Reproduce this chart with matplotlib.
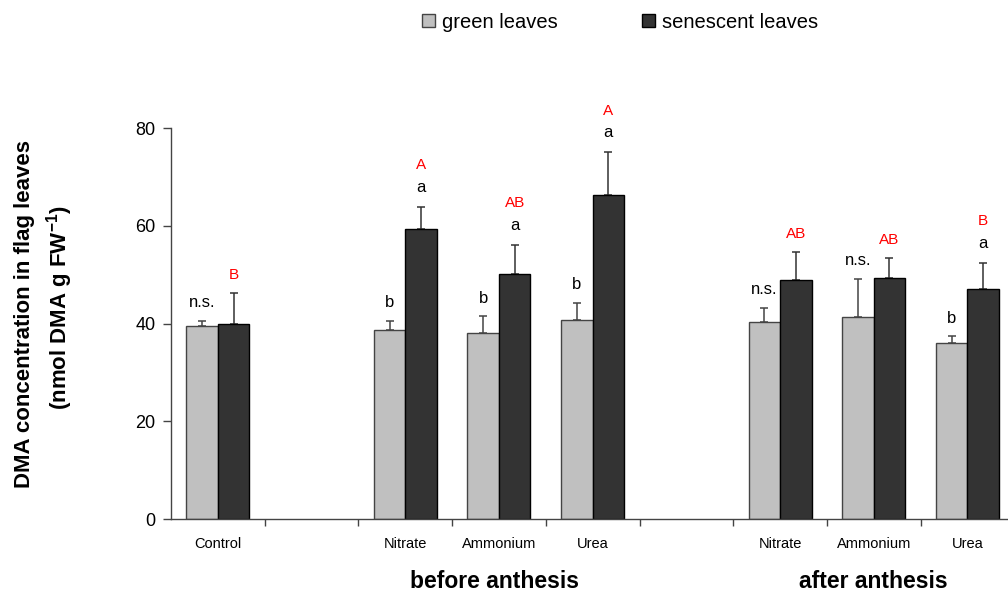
import numpy as np
import matplotlib
matplotlib.use("Agg")
from matplotlib import pyplot as plt

plt.rcParams['font.family'] = ['Liberation Sans', 'DejaVu Sans']
plt.rcParams['mathtext.fontset'] = 'custom'
plt.rcParams['mathtext.rm'] = 'Liberation Sans'
plt.rcParams['mathtext.bf'] = 'Liberation Sans:bold'

# data
categories = ['Control', 'Nitrate', 'Ammonium', 'Urea', 'Nitrate', 'Ammonium', 'Urea']
slots = [0, 2, 3, 4, 6, 7, 8]          # slot index of each category on the axis
green = [39.5, 38.8, 38.1, 40.8, 40.3, 41.3, 36.0]
green_err = [1.1, 1.8, 3.4, 3.5, 3.0, 7.9, 1.4]
senescent = [39.9, 59.3, 50.2, 66.3, 48.9, 49.3, 47.0]
senescent_err = [6.4, 4.6, 5.9, 8.8, 5.7, 4.1, 5.5]
green_labels = ['n.s.', 'b', 'b', 'b', 'n.s.', 'n.s.', 'b']
sen_labels = ['', 'a', 'a', 'a', '', '', 'a']
sen_red_labels = ['B', 'A', 'AB', 'A', 'AB', 'AB', 'B']
group_names = ['before anthesis', 'after anthesis']
group_slots = [3.45, 7.5]

fig = plt.figure(figsize=(10.08, 5.92), dpi=100)
ax = fig.add_axes([171 / 1008, 1 - 519 / 592, 9 * 93.7 / 1008, 390.7 / 592])

x = np.array(slots) + 0.5
w = 0.336
zeros = np.zeros(len(x))

# error bars (only upward)
ax.errorbar(x - w / 2, green, yerr=[zeros, green_err], fmt='none', ecolor='#444444',
            elinewidth=1.1, capsize=2.6, capthick=1.1, zorder=1)
ax.errorbar(x + w / 2, senescent, yerr=[zeros, senescent_err], fmt='none', ecolor='#333333',
            elinewidth=1.1, capsize=2.6, capthick=1.1, zorder=1)

ax.bar(x - w / 2, green, w, color='#c0c0c0', edgecolor='#444444', linewidth=1.0,
       label='green leaves', zorder=2)
ax.bar(x + w / 2, senescent, w, color='#333333', edgecolor='black', linewidth=1.0,
       label='senescent leaves', zorder=2)

# significance letters
for i in range(len(x)):
    top_g = green[i] + green_err[i]
    top_s = senescent[i] + senescent_err[i]
    ax.annotate(green_labels[i], (x[i] - w / 2, top_g), xytext=(0, 13), textcoords='offset points',
                ha='center', va='center', fontsize=12)
    if sen_labels[i]:
        ax.annotate(sen_labels[i], (x[i] + w / 2, top_s), xytext=(0, 14), textcoords='offset points',
                    ha='center', va='center', fontsize=12)
        ax.annotate(sen_red_labels[i], (x[i] + w / 2, top_s), xytext=(0, 30), textcoords='offset points',
                    ha='center', va='center', fontsize=11, color='red')
    else:
        ax.annotate(sen_red_labels[i], (x[i] + w / 2, top_s), xytext=(0, 13), textcoords='offset points',
                    ha='center', va='center', fontsize=11, color='red')

ax.set_xlim(0, 9)
ax.set_ylim(0, 80)
ax.set_yticks([0, 20, 40, 60, 80])
ax.set_xticks(np.arange(1, 10))
ax.set_xticklabels([])
ax.set_xticks(x, minor=True)
ax.set_xticklabels(categories, minor=True, fontsize=10.5)
ax.tick_params(axis='x', which='minor', length=0, pad=13)
ax.tick_params(axis='x', which='major', length=5, width=1, color='#444444', direction='out')
ax.tick_params(axis='y', length=6, width=1, color='#444444', labelsize=13, pad=5)

for s in ['top', 'right']:
    ax.spines[s].set_visible(False)
for s in ['left', 'bottom']:
    ax.spines[s].set_color('#444444')
    ax.spines[s].set_linewidth(1.0)

# group titles
for name, gx in zip(group_names, group_slots):
    ax.text(gx, -0.159, name, transform=ax.get_xaxis_transform(), ha='center', va='center',
            fontsize=16.5, fontweight='bold')

# y axis label
fig.text(25 / 1008, 1 - 314 / 592, 'DMA concentration in flag leaves', rotation=90,
         ha='center', va='center', fontsize=16, fontweight='bold')
fig.text(60 / 1008, 1 - 308 / 592, r'(nmol DMA g FW$^{\mathbf{-1}}$)', rotation=90,
         ha='center', va='center', fontsize=16, fontweight='bold')

fig.legend(loc='center', bbox_to_anchor=(0.615, 1 - 22 / 592), ncol=2, frameon=False,
           fontsize=14.5, handlelength=0.65, handleheight=0.65, handletextpad=0.35,
           columnspacing=4.2)

fig.savefig('out.png', dpi=100)
